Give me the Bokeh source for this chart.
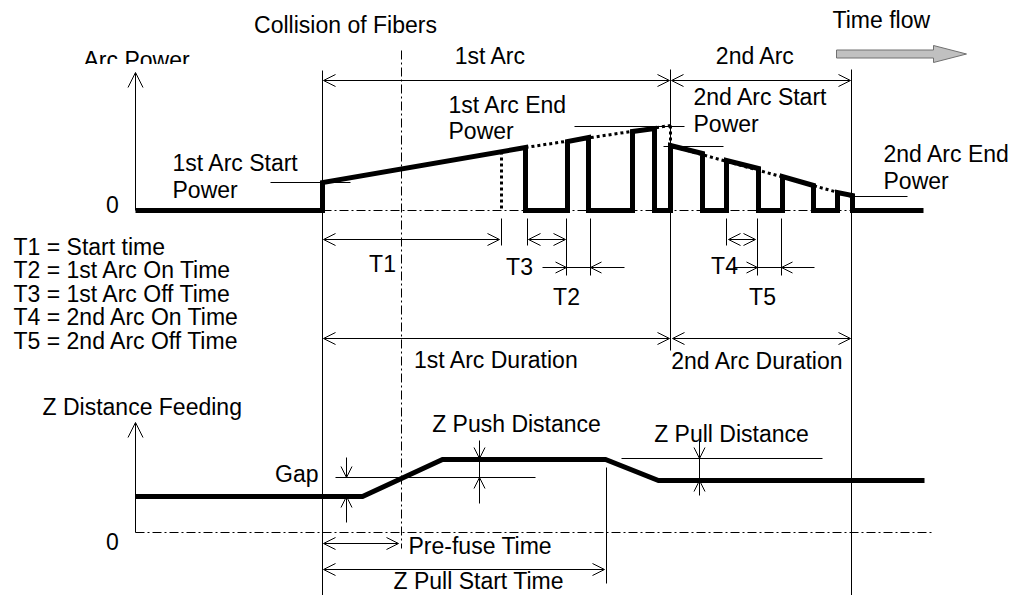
from bokeh.plotting import figure
from bokeh.models import Range1d, Arrow, OpenHead, ColumnDataSource
from bokeh.core.properties import value
from bokeh.embed import file_html
from bokeh.resources import INLINE

W, H = 1032, 595
FONT = value("Liberation Sans")
FS = "23px"

# ---------------- data (diagram coordinates) ----------------
# Arc power waveform: time position / power level
arc_t = [135, 322, 322, 525, 525, 567, 567, 588, 588, 632, 632, 654, 654, 670, 670,
         702, 702, 726, 726, 758, 758, 782, 782, 813, 813, 837, 837, 852, 852, 923]
arc_p = [210, 210, 182, 147, 210, 210, 141, 137, 210, 210, 131, 128, 210, 210, 145,
         153, 210, 210, 160, 168, 210, 210, 176, 185, 210, 210, 192, 195, 210, 210]

# Z distance feeding profile
z_t = [135, 362, 442, 605, 658, 924]
z_d = [496, 496, 459, 459, 480, 480]

# dotted envelope lines
dot_x = [[525, 670], [670, 670], [501, 501], [669, 852]]
dot_y = [[147, 125], [125, 145], [151, 210], [145, 196]]

# dash-dot reference lines
dd_x = [[322, 852], [135, 931], [401, 401]]
dd_y = [[210, 210], [532, 532], [50, 548]]

# thin solid lines (boundaries, ticks, leaders)
thin_x = [[322, 322], [670, 670], [851, 851],
          [501, 501], [527, 527], [566, 566], [590, 590], [726, 726], [757, 757], [781, 781],
          [566, 590], [757, 781],
          [270, 350], [574, 684], [663, 723], [852, 907],
          [335, 535], [621, 822], [606, 606], [479, 479], [699, 699]]
thin_y = [[70, 595], [69, 350], [69, 595],
          [218, 245], [218, 245], [218, 275], [218, 275], [218, 245], [218, 275], [218, 275],
          [267, 267], [267, 267],
          [182, 182], [126, 126], [146, 146], [196, 196],
          [477, 477], [458, 458], [467, 583], [458, 477], [458, 480]]

# double-headed dimension arrows
dim_x0 = [323, 671, 323, 528, 728, 323, 672, 323, 323]
dim_x1 = [669, 850, 499, 565, 755, 669, 850, 398, 604]
dim_y = [80, 80, 239, 239, 239, 338, 338, 543, 569]

# single-headed pointer arrows (start -> tip)
ptr_x0 = [542, 624, 733, 814, 346, 346, 479, 479, 699, 699]
ptr_y0 = [267, 267, 267, 267, 457, 522, 440, 503, 440, 495]
ptr_x1 = [566, 590, 757, 781, 346, 346, 479, 479, 699, 699]
ptr_y1 = [267, 267, 267, 267, 477, 496, 458, 477, 458, 480]

# axes arrows
ax_x0 = [135, 135]
ax_y0 = [210, 532]
ax_y1 = [72, 422]

# time flow block arrow
flow_x = [836, 933, 933, 966, 933, 933, 836]
flow_y = [49.5, 49.5, 45, 53.5, 62, 57.5, 57.5]

# text labels
left_text = ["Arc Power", "Time flow", "1st Arc Start", "Power", "1st Arc End", "Power",
             "2nd Arc Start", "Power", "2nd Arc End", "Power",
             "T1 = Start time", "T2 = 1st Arc On Time", "T3 = 1st Arc Off Time",
             "T4 = 2nd Arc On Time", "T5 = 2nd Arc Off Time",
             "Z Distance Feeding", "Pre-fuse Time", "Z Pull Start Time"]
left_x = [83, 832, 172, 172, 448, 448, 693, 693, 883, 883, 13, 13, 13, 13, 13, 42, 408, 393]
left_y = [59.5, 19, 162.5, 189.5, 104.5, 130.5, 96, 123, 153, 180.5,
          246, 269.5, 293, 316.5, 340, 406, 545, 580]

center_text = ["Collision of Fibers", "1st Arc", "2nd Arc", "T1", "T3", "T4", "T2", "T5",
               "1st Arc Duration", "2nd Arc Duration", "Z Push Distance", "Z Pull Distance",
               "0", "0"]
center_x = [345, 490, 755, 382, 519, 724, 566, 762, 496, 757, 516, 731, 112, 112]
center_y = [24, 55, 55, 263, 266, 265, 296, 296, 359, 360, 423, 433, 204, 541]

right_text = ["Gap"]
right_x = [318]
right_y = [473]

# ---------------- figure ----------------
p = figure(width=W, height=H, x_range=Range1d(0, W), y_range=Range1d(H, 0),
           output_backend="svg", toolbar_location=None, min_border=0,
           x_axis_location=None, y_axis_location=None, background_fill_color="white")
p.grid.visible = False
p.outline_line_color = None

p.multi_line(dd_x, dd_y, line_color="black", line_width=1, line_dash="9 3 2 3")
p.multi_line(dot_x, dot_y, line_color="black", line_width=3, line_dash="3 3")
p.multi_line(thin_x, thin_y, line_color="black", line_width=1)

p.line(arc_t, arc_p, line_color="black", line_width=5, line_join="miter")
p.line(z_t, z_d, line_color="black", line_width=5, line_join="miter")

p.patch(flow_x, flow_y, fill_color="#c0c0c0", line_color="#707070", line_width=1)

p.text(left_x, left_y, text=left_text, text_font=FONT, text_font_size=FS,
       text_align="left", text_baseline="middle", text_color="black")
p.text(center_x, center_y, text=center_text, text_font=FONT, text_font_size=FS,
       text_align="center", text_baseline="middle", text_color="black")
p.text(right_x, right_y, text=right_text, text_font=FONT, text_font_size=FS,
       text_align="right", text_baseline="middle", text_color="black")

# clipped bottom of the "Arc Power" caption, as in the original
p.quad(left=[78], right=[205], top=[63.5], bottom=[69.5], fill_color="white", line_color=None)

dim_src = ColumnDataSource(dict(x0=dim_x0, x1=dim_x1, y=dim_y))
p.add_layout(Arrow(source=dim_src, x_start="x0", y_start="y", x_end="x1", y_end="y",
                   start=OpenHead(size=12, line_width=1), end=OpenHead(size=12, line_width=1),
                   line_width=1))
ptr_src = ColumnDataSource(dict(x0=ptr_x0, y0=ptr_y0, x1=ptr_x1, y1=ptr_y1))
p.add_layout(Arrow(source=ptr_src, x_start="x0", y_start="y0", x_end="x1", y_end="y1",
                   end=OpenHead(size=11, line_width=1), line_width=1))
ax_src = ColumnDataSource(dict(x=ax_x0, y0=ax_y0, y1=ax_y1))
p.add_layout(Arrow(source=ax_src, x_start="x", y_start="y0", x_end="x", y_end="y1",
                   end=OpenHead(size=15, line_width=1), line_width=1))

open("out.html", "w").write(file_html(p, INLINE, title="Arc timing diagram"))
